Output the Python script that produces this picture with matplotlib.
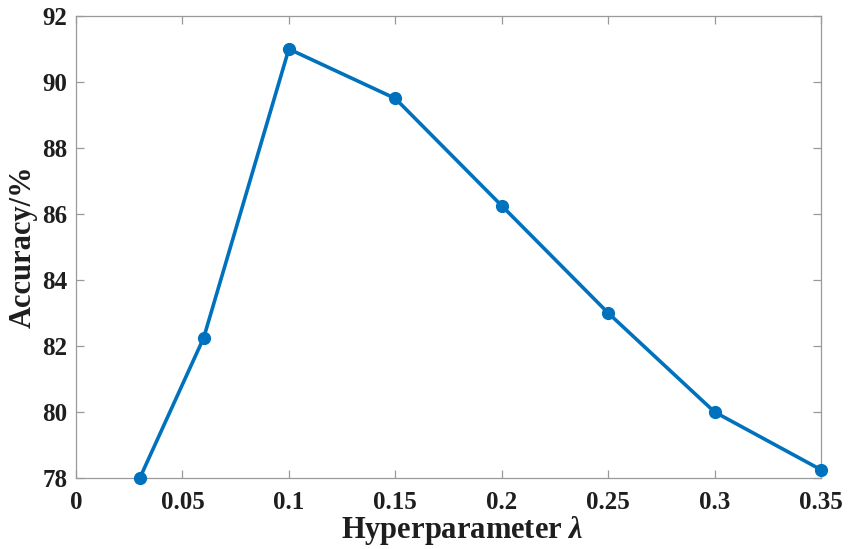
import matplotlib
matplotlib.use("Agg")
import matplotlib.pyplot as plt
from matplotlib.ticker import FixedLocator, FuncFormatter

plt.rcParams['font.family'] = ['Liberation Serif', 'DejaVu Serif']
plt.rcParams['font.weight'] = 'bold'
plt.rcParams['mathtext.fontset'] = 'custom'
plt.rcParams['mathtext.it'] = 'Liberation Serif:italic:bold'
plt.rcParams['mathtext.rm'] = 'Liberation Serif:bold'

# data
lam = [0.03, 0.06, 0.10, 0.15, 0.20, 0.25, 0.30, 0.35]
acc = [78.0, 82.25, 91.0, 89.5, 86.25, 83.0, 80.0, 78.25]
xticks = [0, 0.05, 0.1, 0.15, 0.2, 0.25, 0.3, 0.35]
yticks = [78, 80, 82, 84, 86, 88, 90, 92]

LINE = "#0072BD"
AXC = "#9a9a9a"
TXT = "#1e1e1e"

fig = plt.figure(figsize=(8.48, 5.49), dpi=100)
ax = fig.add_axes([0.0896, 0.1293, 0.8786, 0.8416])

ax.plot(lam, acc, color=LINE, lw=2.6, marker='o', ms=8.5, zorder=3, clip_on=False)

ax.set_xlim(0, 0.35)
ax.set_ylim(78, 92)
ax.xaxis.set_major_locator(FixedLocator(xticks))
ax.yaxis.set_major_locator(FixedLocator(yticks))
ax.xaxis.set_major_formatter(FuncFormatter(lambda v, p: f"{v:g}"))
ax.yaxis.set_major_formatter(FuncFormatter(lambda v, p: f"{v:g}"))

for s in ax.spines.values():
    s.set_color(AXC)
    s.set_linewidth(0.9)
ax.tick_params(direction='in', length=6, width=0.9, color=AXC,
               top=True, right=True, labelsize=18, labelcolor=TXT)
ax.tick_params(axis='y', pad=6)
ax.tick_params(axis='x', pad=9)

ax.set_xlabel(r'Hyperparameter $\mathit{\lambda}$', fontsize=22, fontweight='bold',
              color=TXT, labelpad=0.5, x=0.519)
ax.set_ylabel('Accuracy/%', fontsize=22, fontweight='bold', color=TXT, labelpad=3)

fig.savefig("out.png", dpi=100, facecolor="white")
